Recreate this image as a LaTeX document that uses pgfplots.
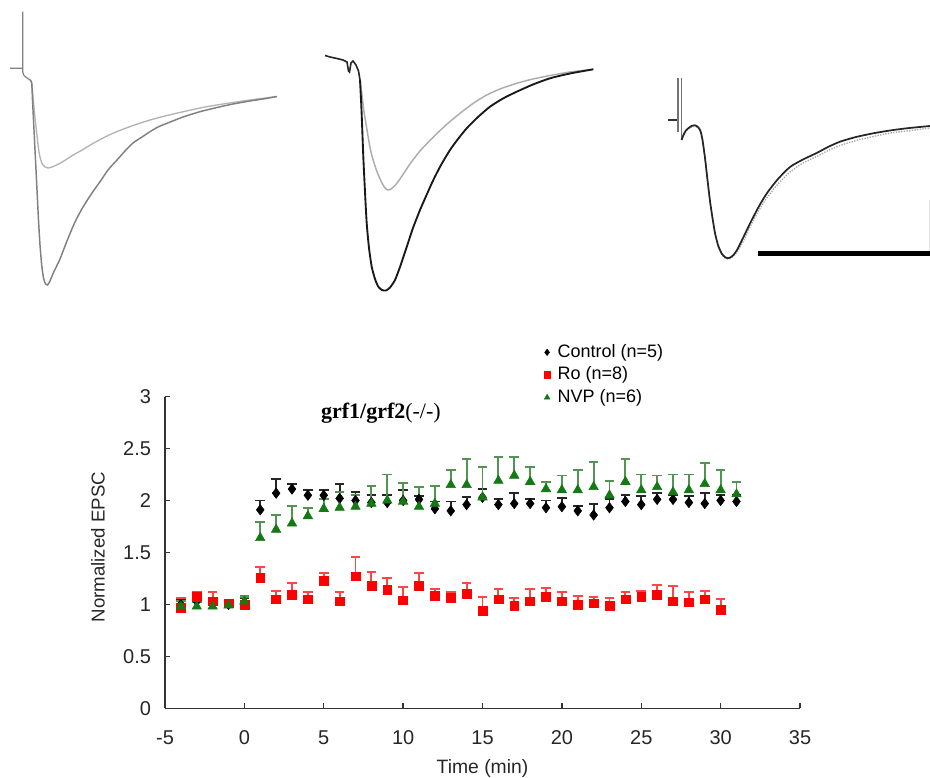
\documentclass[border=0pt]{standalone}
\usepackage{pgfplots}
\pgfplotsset{compat=1.18}
\usepackage{fontspec}
\setmainfont{Liberation Sans}
\newfontfamily\titlefont{Liberation Serif}
\definecolor{cgreen}{RGB}{20,120,20}
\definecolor{cgreenbar}{RGB}{80,150,80}
\definecolor{cred}{RGB}{255,0,0}
\definecolor{credbar}{RGB}{255,70,70}

\pgfplotstableread{
x y e
-4 1.00 0.04
-3 1.03 0.05
-2 1.02 0.04
-1 1.00 0.03
0 1.02 0.04
1 1.91 0.09
2 2.07 0.14
3 2.11 0.05
4 2.05 0.05
5 2.05 0.05
6 2.02 0.14
7 2.00 0.08
8 1.98 0.07
9 1.98 0.07
10 2.00 0.10
11 2.01 0.03
12 1.92 0.07
13 1.90 0.09
14 1.96 0.07
15 2.03 0.08
16 1.96 0.05
17 1.97 0.10
18 1.97 0.04
19 1.93 0.07
20 1.94 0.08
21 1.90 0.05
22 1.86 0.11
23 1.93 0.08
24 1.99 0.06
25 1.96 0.08
26 2.01 0.06
27 2.01 0.04
28 1.98 0.06
29 1.97 0.10
30 2.00 0.05
31 1.99 0.06
}\control

\pgfplotstableread{
x y e
-4 0.97 0.09
-3 1.07 0.05
-2 1.03 0.09
-1 1.01 0.03
0 1.00 0.07
1 1.26 0.10
2 1.05 0.08
3 1.09 0.12
4 1.05 0.07
5 1.23 0.07
6 1.03 0.09
7 1.27 0.19
8 1.18 0.13
9 1.14 0.11
10 1.04 0.13
11 1.18 0.12
12 1.08 0.07
13 1.06 0.06
14 1.10 0.11
15 0.94 0.13
16 1.05 0.10
17 0.99 0.07
18 1.03 0.12
19 1.07 0.09
20 1.03 0.09
21 1.00 0.08
22 1.01 0.06
23 0.99 0.07
24 1.05 0.07
25 1.07 0.06
26 1.09 0.10
27 1.03 0.15
28 1.02 0.10
29 1.05 0.08
30 0.95 0.10
}\ro

\pgfplotstableread{
x y e
-4 0.98 0.05
-3 0.98 0.04
-2 0.98 0.04
-1 0.99 0.04
0 1.03 0.05
1 1.64 0.15
2 1.72 0.14
3 1.78 0.17
4 1.85 0.08
5 1.92 0.09
6 1.93 0.15
7 1.94 0.11
8 1.97 0.17
9 2.00 0.25
10 1.99 0.18
11 1.94 0.19
12 1.97 0.17
13 2.15 0.14
14 2.15 0.25
15 2.03 0.29
16 2.19 0.23
17 2.24 0.18
18 2.18 0.14
19 2.11 0.07
20 2.10 0.14
21 2.10 0.19
22 2.13 0.24
23 2.05 0.14
24 2.18 0.22
25 2.10 0.15
26 2.13 0.11
27 2.08 0.17
28 2.10 0.15
29 2.16 0.20
30 2.10 0.19
31 2.06 0.12
}\nvp

\begin{document}
\begin{tikzpicture}
\path[use as bounding box] (0,0) rectangle (697.5pt,582.75pt);

% ---------- traces (pixel coordinates of the figure) ----------
\begin{axis}[at={(0pt,0pt)}, anchor=south west, scale only axis,
  width=697.5pt, height=582.75pt, xmin=0, xmax=930, ymin=0, ymax=777,
  y dir=reverse, hide axis, clip=false]
% panel 1
\addplot[color=black!50, line width=0.9pt] coordinates {
 (10,68.3) (22.7,68.3) (22.7,11.7) (22.7,72) (24,75.5) (27,78) (30,80)};
\addplot[color=black!30, line width=1pt, smooth, tension=0.4] coordinates {
 (30,80) (31.7,83) (33.3,100) (35,118) (36.7,133) (38.3,147) (40,157)
 (42,163.5) (45,166.8) (48,168) (52,167) (60,163.3) (67,159) (73.3,155)
 (83,149.5) (93.3,143.3) (105,137) (116.7,131.7) (133,125.5) (150,120)
 (167,115.5) (183.3,111.7) (200,108) (216.7,105) (233,102.5) (250,100)
 (265,98) (277,96.5)};
\addplot[color=black!50, line width=1.1pt, smooth, tension=0.4] coordinates {
 (30,80) (31.7,83) (32.5,100) (34,130) (35.5,160) (37,190) (38.5,220)
 (40,245) (41.7,265) (43.5,278) (45.5,284) (47.5,285) (50,281) (53.3,273)
 (60,259) (66.7,241.7) (75,222) (83,207) (92,193) (100,181.7) (108,170)
 (117,160) (125,151) (133,143) (142,137) (150,131.7) (158,127) (167,123.3)
 (183,117) (200,111.7) (217,107.5) (233,104) (250,101) (265,98.7) (277,96.5)};
% panel 2
\addplot[color=black!85, line width=1.2pt] coordinates {
 (325,55.5) (330,57) (337,58.5) (343,60) (347,62) (348.5,71) (349.5,72)
 (351,63) (353,61) (356,65) (358.5,71) (360,80)};
\addplot[color=black!32, line width=1.1pt, smooth, tension=0.4] coordinates {
 (360,80) (362,95) (364,112) (366.7,128) (369,142) (371.7,155) (375,166)
 (378.3,175) (382,183) (385,188) (388,190) (391,189) (395,185.5) (400,179)
 (410,164) (420,151) (433.3,137) (446,125) (460,113.3) (473,103.5)
 (486.7,95) (500,89) (516.7,83.3) (533,79) (550,75.5) (570,72) (593.3,69.3)};
\addplot[color=black!90, line width=1.4pt, smooth, tension=0.4] coordinates {
 (360,80) (361.5,110) (363.3,156.7) (365,192) (366.7,223.3) (369,248)
 (371.7,266.7) (375,279) (378.3,286.7) (382,290) (386,290.5) (390,287.5)
 (395,280) (400,267) (406.7,247) (413,228) (420,210) (427,194) (433.3,180)
 (441,165) (450,150) (458,139) (466.7,128.3) (478,117) (490,106.7)
 (503,98.5) (516.7,91.7) (533,84.5) (550,78.3) (570,73.5) (593.3,69.3)};
% panel 3
\addplot[color=black!80, line width=1.1pt] coordinates {(668.3,120) (678,120)};
\addplot[color=black!55, line width=0.9pt] coordinates {(678,78) (678,132)};
\addplot[color=black!55, line width=0.9pt] coordinates {(681.5,78) (681.5,140)};
\addplot[color=black!35, line width=1pt, densely dotted, smooth, tension=0.4] coordinates {
 (681.5,140) (683,137) (685.5,132) (688.3,129) (691.5,127) (695,126.5)
 (698,128) (700.5,132) (702.5,141) (705,159) (707.5,181) (710,202)
 (712.5,219) (715,234) (718,246) (721.7,254.5) (725.5,258.5) (729,259)
 (733,256.5) (737,252) (743,242) (750,227) (758,212) (766.7,198)
 (778,184) (790,172) (803,163) (816.7,156.5) (828,150.5) (840,145.5)
 (856,140.5) (873.3,136.5) (890,133) (906.7,131) (930,128)};
\addplot[color=black!85, line width=1.3pt, smooth, tension=0.4] coordinates {
 (681.5,140) (683,136) (685.5,131) (688.3,128.3) (691.5,126) (695,125.3)
 (698,127) (700.5,131) (702.5,140) (705,158) (707.5,180) (710,201)
 (712.5,218) (715,233) (718,245) (721.7,253.5) (725.5,257.5) (729,258)
 (733,255.5) (737,250) (743,238) (750,223.5) (758,208) (766.7,193.5)
 (778,179) (790,167) (803,159.5) (816.7,153) (828,147) (840,141.7)
 (856,137) (873.3,133.3) (890,130.5) (906.7,128.3) (930,126)};
\addplot[color=black!12, line width=0.5pt] coordinates {(929,200) (929,252)};
\addplot[color=black, line width=3.7pt] coordinates {(758.3,253.3) (930,253.3)};
\end{axis}

% ---------- main plot ----------
\begin{axis}[at={(123.75pt,51.5pt)}, anchor=south west, scale only axis,
  width=476.25pt, height=233.85pt,
  xmin=-5, xmax=35, ymin=0, ymax=3,
  axis x line*=bottom, axis y line*=left,
  xtick={-5,0,...,35}, ytick={0,0.5,1,1.5,2,2.5,3},
  tick align=inside, major tick length=4pt,
  axis line style={line width=1.1pt, color=black!80},
  every tick/.style={line width=1.1pt, color=black!80},
  tick label style={font=\fontsize{15}{18}\selectfont, color=black!85},
  /pgf/number format/assume math mode=true,
  xticklabel style={yshift=-13pt},
  yticklabel style={xshift=-7pt},
  xlabel={Time (min)}, ylabel={Normalized EPSC},
  xlabel style={at={(axis description cs:0.5,-0.1915)}, anchor=center,
    font=\fontsize{14.5}{17}\selectfont, color=black!85},
  ylabel style={at={(axis description cs:-0.1055,0.517)}, anchor=center,
    font=\fontsize{14}{17}\selectfont, color=black!85},
  clip=false,
  legend style={draw=none, fill=none, at={(axis description cs:0.59,1.181)},
    anchor=north west, font=\fontsize{13.5}{16}\selectfont,
    nodes={inner sep=0.5pt, text height=10pt, text depth=3pt},
    row sep=2.9pt, column sep=5pt, cells={anchor=west}},
  legend image code/.code={\draw[mark repeat=2,mark phase=2,#1,mark size=2.4pt]
    plot coordinates {(0pt,0pt) (4pt,0pt) (8pt,0pt)};},
]
\addplot[only marks, mark=diamond*, mark size=3.9pt, color=black,
  error bars/.cd, y dir=plus, y explicit,
  error bar style={line width=1.4pt, color=black!85},
  error mark options={rotate=90, line width=1.4pt, mark size=3.6pt, color=black!85}]
  table[x=x, y=y, y error=e] {\control};
\addlegendentry{Control (n=5)}
\addplot[only marks, mark=square*, mark size=3.3pt, color=cred,
  error bars/.cd, y dir=plus, y explicit,
  error bar style={line width=1.4pt, color=credbar},
  error mark options={rotate=90, line width=1.4pt, mark size=3.6pt, color=credbar}]
  table[x=x, y=y, y error=e] {\ro};
\addlegendentry{Ro (n=8)}
\addplot[only marks, mark=triangle*, mark size=4.1pt, color=cgreen,
  error bars/.cd, y dir=plus, y explicit,
  error bar style={line width=1.4pt, color=cgreenbar},
  error mark options={rotate=90, line width=1.4pt, mark size=3.6pt, color=cgreenbar}]
  table[x=x, y=y, y error=e] {\nvp};
\addlegendentry{NVP (n=6)}
\node[font=\titlefont\fontsize{16.5}{20}\selectfont] at (axis cs:8.6,2.84)
  {\textbf{grf1/grf2}(-/-)};
\end{axis}
\end{tikzpicture}
\end{document}
